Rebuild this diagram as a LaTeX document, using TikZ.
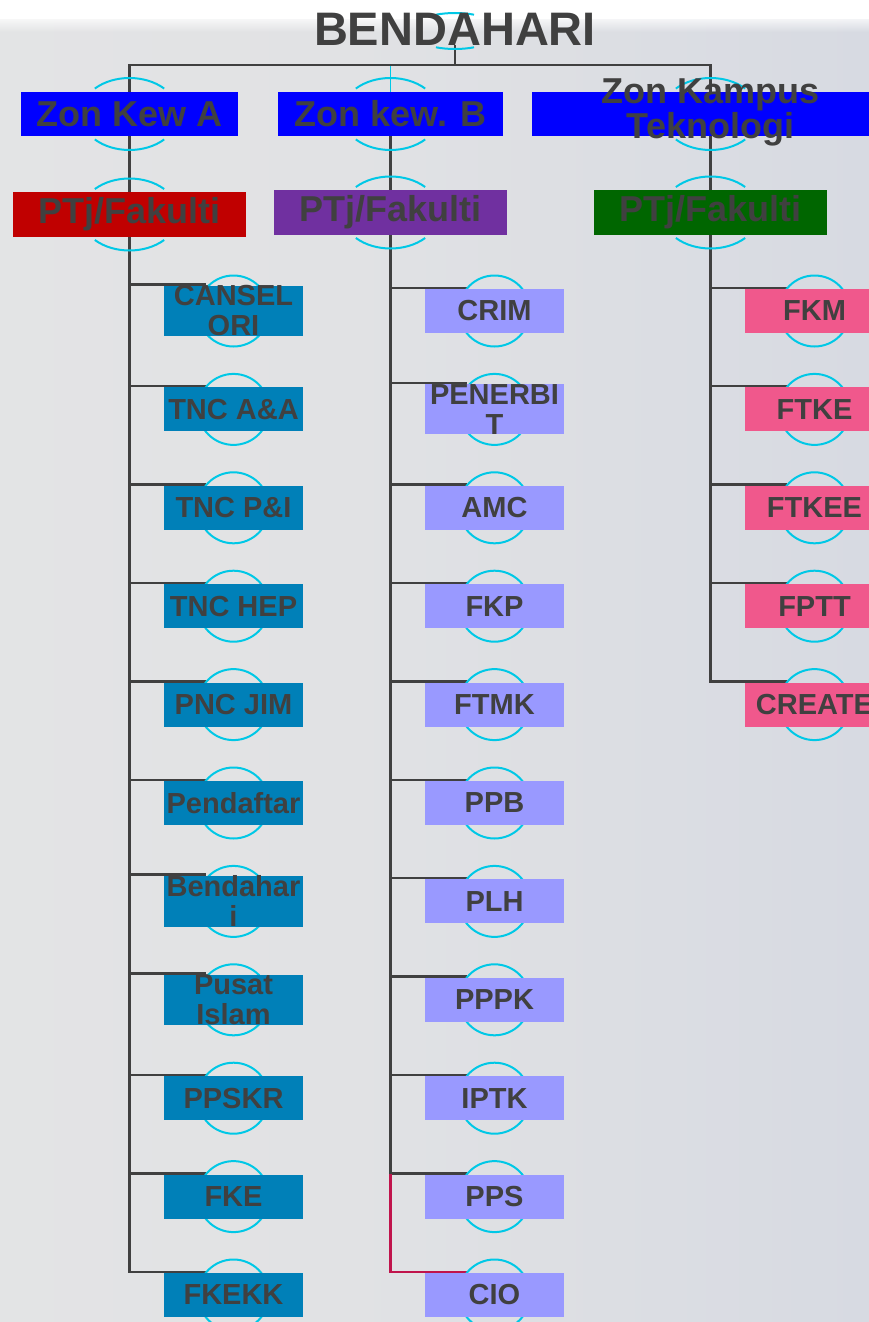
\documentclass[tikz,border=0pt]{standalone}
\usepackage{fontspec}
\setmainfont{Liberation Sans}
\usetikzlibrary{fadings}
\definecolor{ink}{HTML}{404040}
\definecolor{zon}{HTML}{0000FF}
\definecolor{ptjA}{HTML}{C00000}
\definecolor{ptjB}{HTML}{7030A0}
\definecolor{ptjC}{HTML}{006600}
\definecolor{kiri}{HTML}{0080B8}
\definecolor{tengah}{HTML}{9999FF}
\definecolor{kanan}{HTML}{F0588C}
\definecolor{ringc}{HTML}{00C8E6}
\definecolor{hot}{HTML}{C0144C}
\definecolor{bgl}{HTML}{E6E6E6}
\definecolor{bgm}{HTML}{E1E2E4}
\definecolor{bgn}{HTML}{D7DAE2}
\definecolor{bgr}{HTML}{CBD1DF}
\pgfdeclarehorizontalshading{wall}{100bp}{color(0bp)=(bgl); color(45bp)=(bgm); color(75bp)=(bgn); color(100bp)=(bgr)}
\pgfdeclarelayer{back}
\pgfdeclarelayer{wires}
\pgfdeclarelayer{rings}
\pgfsetlayers{back,wires,rings,main}
\tikzset{
	zone/.style 2 args={fill=#1,text=ink,font=\bfseries\fontsize{36}{32}\selectfont,align=center,minimum width=#2,minimum height=44pt,inner sep=0pt},
	ptj/.style={fill=#1,text=ink,font=\bfseries\fontsize{36}{32}\selectfont,minimum width=233pt,minimum height=45pt,inner sep=0pt},
	leaf/.style={fill=#1,text=ink,font=\bfseries\fontsize{29}{30}\selectfont,align=center,minimum width=139pt,minimum height=44pt,inner sep=0pt},
	link/.style={draw=ink,line width=2.5pt},
	hot/.style={draw=hot,line width=2.5pt},
	glow/.style={draw=ringc,line width=1.5pt},
	ring/.style={draw=ringc,line width=2pt}
}
\begin{document}
\begin{tikzpicture}[x=1pt,y=-1pt]
	\useasboundingbox (0,0) rectangle (869,1322);
	\begin{pgfonlayer}{back}
		\fill[white] (0,0) rectangle (869,1322);
		\shade[shading=wall] (0,20) rectangle (869,1322);
		\fill[white,path fading=south] (0,14) rectangle (869,32);
	\end{pgfonlayer}

	\node[font=\bfseries\fontsize{47}{50}\selectfont,text=ink,inner sep=0pt] (head) at (455,29) {BENDAHARI};
	\coordinate (hub) at (455,65);

	\node[zone={zon}{217pt}] (za) at (129.5,114) {Zon Kew A};
	\node[zone={zon}{225pt}] (zb) at (390.5,114) {Zon kew. B};
	\node[zone={zon}{357pt},text height=48pt,text depth=0pt,inner ysep=-2pt] (zc) at (710.5,114) {Zon Kampus\\Teknologi};

	\node[ptj=ptjA] (pa) at (129.5,214.5) {PTj/Fakulti};
	\node[ptj=ptjB] (pb) at (390.5,212.5) {PTj/Fakulti};
	\node[ptj=ptjC] (pc) at (710.5,212.5) {PTj/Fakulti};

	% leaves per zone
	\foreach \t [count=\i] in {CANSEL\\ORI,TNC A\&A,TNC P\&I,TNC HEP,PNC JIM,Pendaftar,Bendahar\\i,Pusat\\Islam,PPSKR,FKE,FKEKK}
		\node[leaf=kiri] (a\i) at (233.5,{311+98.4*(\i-1)}) {\t};
	\foreach \t [count=\i] in {CRIM,PENERBI\\T,AMC,FKP,FTMK,PPB,PLH,PPPK,IPTK,PPS,CIO}
		\node[leaf=tengah] (b\i) at (494.5,{311+98.4*(\i-1)}) {\t};
	\foreach \t [count=\i] in {FKM,FTKE,FTKEE,FPTT,CREATE}
		\node[leaf=kanan] (c\i) at (814.5,{311+98.4*(\i-1)}) {\t};

	\begin{pgfonlayer}{rings}
		\draw[ring] ([shift={(65:45 and 18)}]455,31) arc[start angle=65,end angle=115,x radius=45,y radius=18];
		\draw[ring] ([shift={(245:45 and 18)}]455,31) arc[start angle=245,end angle=295,x radius=45,y radius=18];
		\foreach \n in {za,zb,zc,pa,pb,pc} {
			\draw[ring] ([shift={(45:49 and 36)}]\n.center) arc[start angle=45,end angle=135,x radius=49,y radius=36];
			\draw[ring] ([shift={(225:49 and 36)}]\n.center) arc[start angle=225,end angle=315,x radius=49,y radius=36];
		}
		\foreach \n in {a,b} \foreach \i in {1,...,11} \draw[ring] (\n\i) circle[radius=35.5];
		\foreach \i in {1,...,5} \draw[ring] (c\i) circle[radius=35.5];
	\end{pgfonlayer}

	\begin{pgfonlayer}{wires}
		\draw[glow] (hub) -| (zb);
		\draw[link] (za) |- (hub) -| (zc);
		\draw[link] (head) -- (hub);
		\draw[link] (za) -- (pa);
		\draw[link] (zb) -- (pb);
		\draw[link] (zc) -- (pc);
		\foreach \i in {1,...,11} \draw[link] (pa) |- ([xshift=-28pt,yshift=1pt]a\i.north);
		\foreach \i in {1,...,10} \draw[link] (pb) |- ([xshift=-28pt,yshift=1pt]b\i.north);
		\draw[hot] (pb |- b10.north) |- ([xshift=-28pt,yshift=1pt]b11.north);
		\foreach \i in {1,...,5} \draw[link] (pc) |- ([xshift=-28pt,yshift=1pt]c\i.north);
	\end{pgfonlayer}
\end{tikzpicture}
\end{document}
